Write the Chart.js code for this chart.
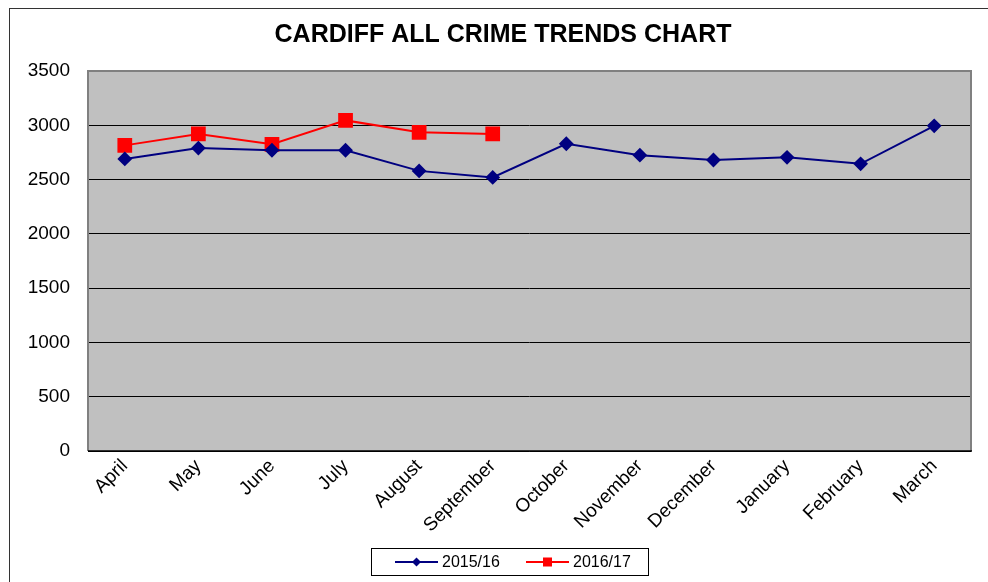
<!DOCTYPE html>
<html lang="en">
  <head>
    <meta charset="UTF-8" />
    <title>Cardiff All Crime Trends Chart</title>
    <script src="https://cdn.jsdelivr.net/npm/chart.js@4.4.0/dist/chart.umd.min.js"></script>
    <style>
      body { margin: 0; background: #fff; }
      canvas { display: block; }
    </style>
  </head>
  <body>
    <canvas id="myChart" width="988" height="582"></canvas>

    <script>
      // months of the financial year (April - March)
      const months = ['April', 'May', 'June', 'July', 'August', 'September',
        'October', 'November', 'December', 'January', 'February', 'March'];

      const crimes1516 = [2690, 2790, 2770, 2770, 2580, 2520, 2830, 2725, 2680, 2705, 2645, 2995];
      const crimes1617 = [2815, 2920, 2825, 3045, 2935, 2920, null, null, null, null, null, null];

      const seriesNames = ['2015/16', '2016/17'];
      const yTicks = [0, 500, 1000, 1500, 2000, 2500, 3000, 3500];

      // grey plot area + border, and the outer frame of the chart
      const backdrop = {
        id: 'backdrop',
        afterLayout(chart) {
          // Excel centres the title a bit right of the canvas middle
          if (chart.titleBlock) chart.titleBlock.left = 35;
        },
        beforeDraw(chart) {
          const { ctx, chartArea: a } = chart;
          ctx.save();
          ctx.fillStyle = '#fff';
          ctx.fillRect(0, 0, chart.width, chart.height);
          ctx.strokeStyle = '#333';
          ctx.lineWidth = 1;
          ctx.strokeRect(9.5, 8.5, chart.width + 20, chart.height + 20);
          ctx.fillStyle = '#c0c0c0';
          ctx.fillRect(a.left, a.top, a.right - a.left, a.bottom - a.top);
          ctx.restore();
        },
        beforeDatasetsDraw(chart) {
          const { ctx, chartArea: a } = chart;
          ctx.save();
          ctx.strokeStyle = '#808080';
          ctx.lineWidth = 2;
          ctx.beginPath();
          ctx.moveTo(a.left, a.bottom);
          ctx.lineTo(a.left, a.top);
          ctx.lineTo(a.right, a.top);
          ctx.lineTo(a.right, a.bottom);
          ctx.stroke();
          ctx.strokeStyle = '#000';
          ctx.lineWidth = 1.5;
          ctx.beginPath();
          ctx.moveTo(a.left, a.bottom);
          ctx.lineTo(a.right + 1, a.bottom);
          ctx.stroke();
          ctx.restore();
        }
      };

      // Excel style legend: line + marker, boxed
      const boxLegend = {
        id: 'boxLegend',
        afterDraw(chart) {
          const ctx = chart.ctx;
          const box = { x: 371.5, y: 548.5, w: 277, h: 27 };
          const cy = box.y + box.h / 2;
          const starts = [395, 526];
          ctx.save();
          ctx.strokeStyle = '#000';
          ctx.lineWidth = 1;
          ctx.strokeRect(box.x, box.y, box.w, box.h);
          ctx.font = '16px "Liberation Sans", Arial, sans-serif';
          ctx.textBaseline = 'middle';
          chart.data.datasets.forEach((ds, i) => {
            const x0 = starts[i];
            ctx.strokeStyle = ds.borderColor;
            ctx.lineWidth = 2;
            ctx.beginPath();
            ctx.moveTo(x0, cy);
            ctx.lineTo(x0 + 43, cy);
            ctx.stroke();
            ctx.fillStyle = ds.pointBackgroundColor;
            const mx = x0 + 21.5;
            if (ds.pointStyle === 'rectRot') {
              ctx.beginPath();
              ctx.moveTo(mx, cy - 4.5);
              ctx.lineTo(mx + 4.5, cy);
              ctx.lineTo(mx, cy + 4.5);
              ctx.lineTo(mx - 4.5, cy);
              ctx.closePath();
              ctx.fill();
            } else {
              ctx.fillRect(mx - 4.5, cy - 4.5, 9, 9);
            }
            ctx.fillStyle = '#000';
            ctx.fillText(ds.label, x0 + 47, cy + 1);
          });
          ctx.restore();
        }
      };

      const ctx = document.getElementById('myChart').getContext('2d');
      const myChart = new Chart(ctx, {
        type: 'line',
        data: {
          labels: months,
          datasets: [
            {
              label: seriesNames[0],
              data: crimes1516,
              borderColor: '#000080',
              backgroundColor: '#000080',
              pointBackgroundColor: '#000080',
              pointBorderColor: '#000080',
              pointStyle: 'rectRot',
              pointRadius: 6,
              borderWidth: 2,
              tension: 0
            },
            {
              label: seriesNames[1],
              data: crimes1617,
              borderColor: '#ff0000',
              backgroundColor: '#ff0000',
              pointBackgroundColor: '#ff0000',
              pointBorderColor: '#ff0000',
              pointStyle: 'rect',
              pointRadius: 9,
              borderWidth: 2,
              tension: 0
            }
          ]
        },
        options: {
          responsive: false,
          animation: false,
          devicePixelRatio: 1,
          layout: { padding: { left: 0, right: 17, top: 0, bottom: 41 } },
          plugins: {
            legend: { display: false },
            tooltip: { enabled: false },
            title: {
              display: true,
              text: 'CARDIFF ALL CRIME TRENDS CHART',
              color: '#000',
              font: { family: '"Liberation Sans", Arial, sans-serif', size: 25, weight: 'bold', lineHeight: 1.2 },
              padding: { top: 20, bottom: 21 }
            }
          },
          scales: {
            x: {
              offset: true,
              grid: { display: false, drawTicks: false },
              border: { display: false },
              afterFit(scale) { scale.height = 90; },
              ticks: {
                color: '#000',
                minRotation: 45,
                maxRotation: 45,
                autoSkip: false,
                padding: 4,
                font: { family: '"Liberation Sans", Arial, sans-serif', size: 19 }
              }
            },
            y: {
              min: 0,
              max: 3500,
              afterFit(scale) { scale.width = 88; },
              afterBuildTicks(scale) { scale.ticks = yTicks.map(v => ({ value: v })); },
              grid: { color: '#000', lineWidth: 1, drawTicks: false },
              border: { display: false },
              ticks: {
                color: '#000',
                padding: 18,
                callback: v => String(v),
                font: { family: '"Liberation Sans", Arial, sans-serif', size: 19 }
              }
            }
          }
        },
        plugins: [backdrop, boxLegend]
      });
    </script>
  </body>
</html>
